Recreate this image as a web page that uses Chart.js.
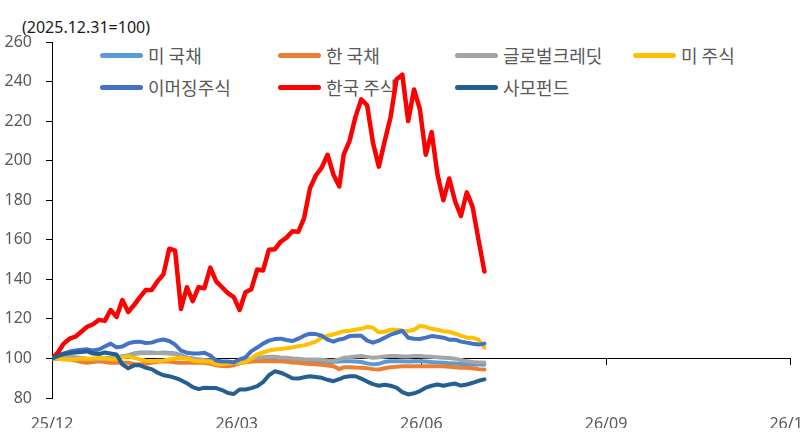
<!DOCTYPE html>
<html><head><meta charset="utf-8">
<script src="https://cdn.jsdelivr.net/npm/chart.js@4.4.1/dist/chart.umd.min.js"></script>
<style>
html,body{margin:0;padding:0;background:#fff;overflow:hidden;width:800px;height:440px;}
#wrap{position:relative;width:800px;height:440px;overflow:hidden;background:#fff;}
#title{position:absolute;left:22px;top:16px;font-family:"Noto Sans";font-size:16px;color:#1a1a1a;line-height:22px;white-space:nowrap;}
.lg{position:absolute;height:24px;display:flex;align-items:center;font-family:"Noto Sans CJK KR";font-size:18px;color:#595959;white-space:nowrap;line-height:24px;}
.lg i{display:inline-block;width:43px;height:5px;border-radius:3px;margin-right:5px;}
#cv{position:absolute;left:0;top:0;}
</style></head>
<body>
<div id="wrap">
  <div id="title"></div>
  <div id="legend"></div>
  <canvas id="cv" width="829" height="440"></canvas>
</div>
<script>
// trading-day positions (0 = 2025.12.31)
const days = [0,2,4,6,8,10,12,14,16,18,20,22,24,26,28,30,32,34,36,38,40,42,44,46,48,50,52,54,56,58,60,62,64,66,68,70,72,74,76,78,80,82,84,86,88,90,92,94,96,98,
  99.5,101.5,103.5,105.5,107.5,109.5,111.5,113.5,115.5,117.5,119.5,121.5,123.5,125.5,127.5,129.5,131.5,133.5,135.5,137.5,139.5,141.5,143.5,145.5,147.5];
const tickDays = [0,63,126,189,252];
const tickLabels = ['25/12','26/03','26/06','26/09','26/12'];
const yTitle = '(2025.12.31=100)';

const usBond = [100,100.2,100.5,100.5,100.2,99.8,99.5,99.5,99.8,100,
  100.3,100.5,101,101.5,102.5,103,103,103,102.8,103,
  102.8,102.5,101.5,100.5,99.8,99.5,99,98.6,98,97.8,
  97.5,97.2,97.5,98.2,98.8,99.2,99.5,99.6,99.5,99.3,
  99,98.8,98.5,98.3,98,97.8,97.8,98,98.3,98.5,
  98.6,98.6,98.4,98.2,97.5,97,97.3,98.3,98.6,98.6,
  98.6,98.4,98.6,98.6,98.5,98.2,98,97.8,97.6,97.4,
  97.2,97,96.8,97,97];
const krBond = [100,99.8,99.6,99.5,99,98.2,97.8,98.2,98.6,98.2,
  97.8,97.8,97.8,97.8,97.2,97,97.3,97.8,98.3,98.6,
  98.5,98,97.8,97.8,97.8,97.8,97.8,97.3,96.5,96.2,
  96.1,96.5,97.8,98.1,98.4,98.6,98.6,98.6,98.6,98.6,
  98.3,98,97.8,97.5,97.2,97,96.8,96.4,96.1,94.6,
  95.5,95.6,95.4,95.3,95.1,94.6,94.4,95,95.6,95.8,
  96,96.1,96.1,96.1,96.1,96.1,96.1,96,95.8,95.6,
  95.3,95.3,95,94.6,94.4];
const globalCredit = [100,100.3,100.5,100.8,100.6,100.2,99.8,99.5,99.6,100,
  100.2,100.5,101,101.5,102.2,102.6,102.8,102.8,102.8,102.6,
  102.5,102.2,101,100.3,100,99.5,99.2,99,98.5,98.2,
  98,98,98.5,99.2,99.8,100.3,100.6,100.8,100.8,100.5,
  100.3,100,99.8,99.5,99.5,99.5,99.3,99,98.8,99.5,
  100.3,100.6,101,101.2,100.8,100.3,100.6,101,101.2,101.2,
  101,101,101.2,101.2,101,100.8,100.6,100.4,100.2,99.8,
  99.2,98.6,98.2,98,98];
const usEquity = [100,99.8,99.6,99.5,99.6,99.8,99.8,100,100.2,100,
  99.6,99.5,100.5,101,100.3,99.5,98.8,98.6,98.8,99,
  99.5,100,100.3,100,99,98.6,98.6,98.2,97.2,97,
  97.5,97.8,97.8,98,100,102,103,104,104.5,104.8,
  105.2,105.6,106.2,106.6,107.5,108.5,110.5,111.5,112.2,113,
  113.8,114,114.5,115,116,115.5,113.2,113.5,114.5,114.5,
  114,113.8,114.5,116.4,116,115,114.5,113.8,113.5,112.5,
  111.5,110.5,110.5,109.5,105.5];
const emEquity = [100,101.5,102.5,103.5,104,104.4,104.6,104,104.5,106,
  107.5,105.6,106,107.6,108.3,108.5,107.8,108,109,109.6,
  108.8,107,104,102.9,102.5,102.5,102.9,101.5,99,98.5,
  98.5,98,99.5,100.5,103.7,105.5,107.5,109,109.8,110,
  109.3,108.8,110,111.5,112.5,112.3,111.5,109.5,108.5,109.6,
  110,111.3,111.5,111.5,109,108,109,110.5,112,113,
  114,110.5,110,109.8,110.5,111.3,111,110.5,109.5,109.5,
  108.5,108,107.4,107,107.5];
const krEquity = [100,103,107.5,110,111,113.5,116,117.3,119.5,119,
  124.5,121,129.5,123.5,127,131,134.6,134.6,139,142.5,
  155.5,154.5,125,136,129,136,135.5,145.9,139,136,
  133,131,124.5,133.5,135,145,144.5,155,155.2,159,
  161.1,164.3,164,171,186,192.5,196.5,203,193,187,
  203,210,222,231,228,209,197,210,222,241,
  243.5,220,236,226,203,214.5,193,180,191,179.5,
  172,184,176.5,160,144];
const privateFund = [100,101.2,102.2,102.7,103,103.2,103.6,102.5,102.2,103,
  102.5,102,97,95,96.5,96.5,95.3,94.6,92.8,91.5,
  91,90.2,89,87.5,85.5,84.5,85.2,85,85,84,
  82.5,82,84.3,84.3,85,86,88,91.5,93.5,92.8,
  91.5,90,89.8,90.5,91,90.6,90.2,89.2,88.5,89.5,
  90.5,91,91,89.8,88.3,87,86.2,86.7,86.2,85.2,
  83,81.8,82.4,83.5,85.2,86.2,86.8,86.2,86.8,87.3,
  86.3,86.8,87.7,88.7,89.4];

const seriesNames = ['미 국채','한 국채','글로벌크레딧','미 주식','이머징주식','한국 주식','사모펀드'];
const seriesValues = [usBond, krBond, globalCredit, usEquity, emEquity, krEquity, privateFund];
const seriesColors = ['#5B9BD5','#ED7D31','#A5A5A5','#FFC000','#4472C4','#FF0000','#255E91'];

document.getElementById('title').textContent = yTitle;

// legend (HTML, two rows of four columns)
const legendCols = [100, 278, 455, 633];
const legendRows = [43, 75];
const lg = document.getElementById('legend');
seriesNames.forEach((name, k) => {
  const d = document.createElement('div');
  d.className = 'lg';
  d.style.left = legendCols[k % 4] + 'px';
  d.style.top = legendRows[Math.floor(k / 4)] + 'px';
  const sw = document.createElement('i');
  sw.style.background = seriesColors[k];
  d.appendChild(sw);
  d.appendChild(document.createTextNode(name));
  lg.appendChild(d);
});

const setTicks = s => { s.ticks = tickDays.map(v => ({ value: v })); };
const tickFont = { family: 'Noto Sans', size: 16 };

new Chart(document.getElementById('cv'), {
  type: 'line',
  data: {
    datasets: seriesValues.map((vals, k) => ({
      label: seriesNames[k],
      data: days.map((d, i) => ({ x: d, y: vals[i] })),
      borderColor: seriesColors[k],
      backgroundColor: seriesColors[k],
      borderWidth: k === 5 ? 4.5 : 4,
      pointRadius: 0,
      tension: 0,
      fill: false,
      borderJoinStyle: 'round',
      borderCapStyle: 'round',
      order: seriesNames.length - k,
      xAxisID: 'x',
      yAxisID: 'y'
    }))
  },
  options: {
    responsive: false,
    animation: false,
    layout: { padding: { left: 4, top: 42, right: 24, bottom: 12 } },
    plugins: { legend: { display: false }, tooltip: { enabled: false } },
    scales: {
      x: {
        type: 'linear', min: 0, max: 252,
        afterBuildTicks: setTicks,
        afterFit: s => { s.height = 30; },
        ticks: {
          callback: v => tickLabels[tickDays.indexOf(v)],
          autoSkip: false, maxRotation: 0, padding: 17,
          font: tickFont, color: '#595959'
        },
        grid: { display: false, drawTicks: false },
        border: { display: false }
      },
      x2: {
        type: 'linear', min: 0, max: 252,
        position: { y: 100 },
        afterBuildTicks: setTicks,
        ticks: { display: false },
        grid: { drawOnChartArea: false, drawTicks: true, tickLength: 6, color: '#000' },
        border: { display: true, color: '#000', width: 1 }
      },
      y: {
        min: 80, max: 260,
        afterFit: s => { s.width = 48; },
        ticks: { stepSize: 20, padding: 14, font: tickFont, color: '#595959' },
        grid: { drawOnChartArea: false, drawTicks: true, tickLength: 6, color: '#000' },
        border: { display: true, color: '#000', width: 1 }
      }
    }
  }
});
</script>
</body></html>
